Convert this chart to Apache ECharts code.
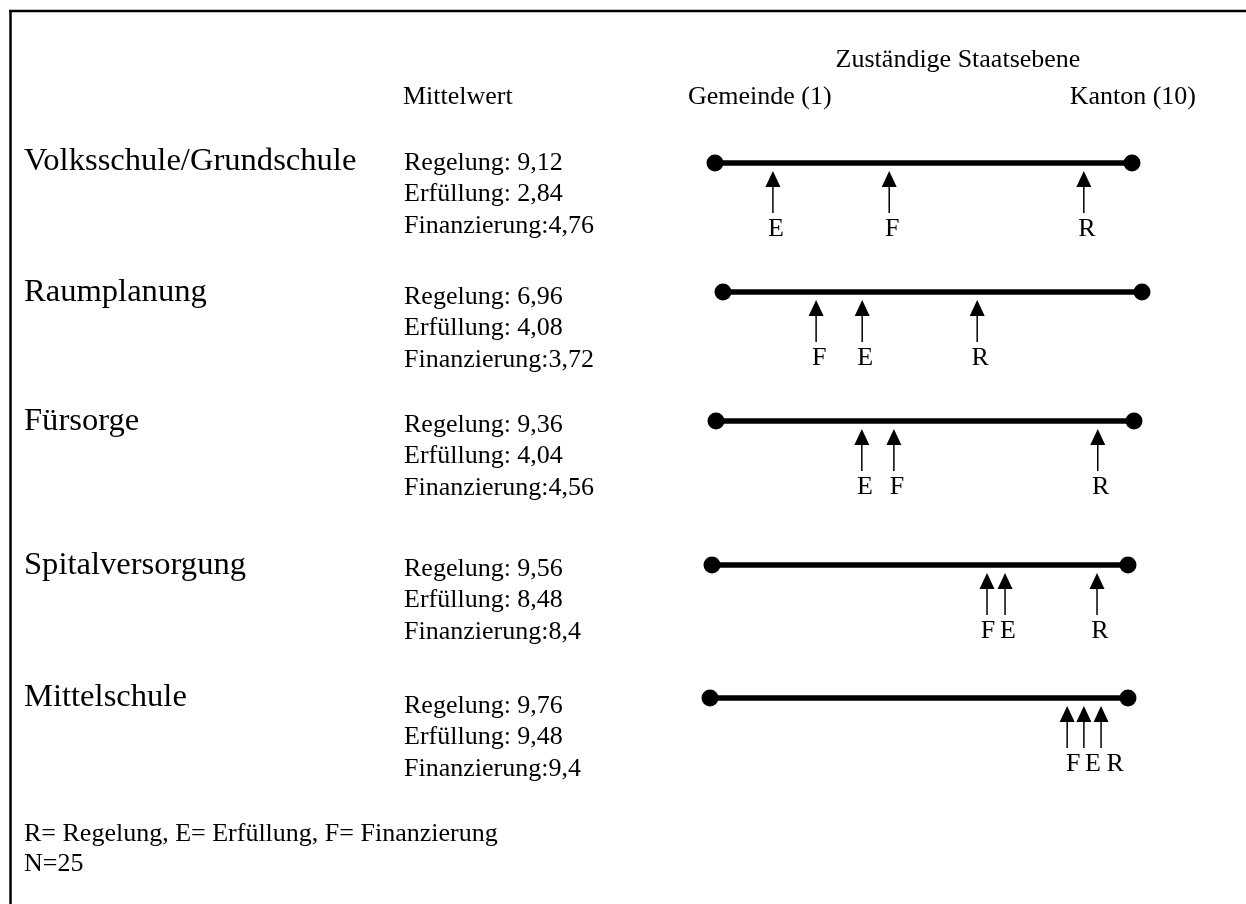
<!DOCTYPE html>
<html>
<head>
<meta charset="utf-8">
<script src="https://cdn.jsdelivr.net/npm/echarts@6/dist/echarts.min.js"></script>
<style>
html,body{margin:0;padding:0;background:#fff;}
#chart{width:1246px;height:904px;}
</style>
</head>
<body>
<div id="chart"></div>
<script>
// ---- data ----
const categories = ['Volksschule/Grundschule', 'Raumplanung', 'Fürsorge', 'Spitalversorgung', 'Mittelschule'];
const regelung = [9.12, 6.96, 9.36, 9.56, 9.76];
const erfuellung = [2.84, 4.08, 4.04, 8.48, 9.48];
const finanzierung = [4.76, 3.72, 4.56, 8.4, 9.4];
// arrow positions as drawn in the picture, on the 1 (Gemeinde) .. 10 (Kanton) scale
const arrowR = [8.96, 6.46, 9.22, 9.33, 9.42];
const arrowE = [2.25, 3.99, 4.14, 7.34, 9.05];
const arrowF = [4.76, 3.00, 4.83, 6.95, 8.69];
const letters = ['R', 'E', 'F'];
const scaleMin = 1, scaleMax = 10;
const headerTitle = 'Zuständige Staatsebene';
const headerMean = 'Mittelwert';
const headerLeft = 'Gemeinde (1)';
const headerRight = 'Kanton (10)';
const legendLine = 'R= Regelung, E= Erfüllung, F= Finanzierung';
const nLine = 'N=25';

// ---- layout (pixels) ----
const lineY = [163, 292, 421, 565, 698];
const lineLeft = [715, 723, 716, 712, 710];
const lineRight = [1132, 1142, 1134, 1128, 1128];
const labelY = [161, 292, 421, 565, 697];
const meanY = [163, 297, 425, 569, 706];
// horizontal nudge of the letter under each arrow (R, E, F) per row
const letterShift = [[3, 3, 3], [3, 3, 3], [3, 3, 3], [3, 3, 1], [14, 9, 6]];
const FONT = 'Liberation Serif';

function fmt(v) { return String(v).replace('.', ','); }

const grids = [], xAxes = [], yAxes = [], series = [], graphics = [];

categories.forEach((cat, i) => {
  grids.push({ left: lineLeft[i], width: lineRight[i] - lineLeft[i], top: lineY[i] - 50, height: 100 });
  xAxes.push({ gridIndex: i, type: 'value', min: scaleMin, max: scaleMax, show: false });
  yAxes.push({ gridIndex: i, type: 'value', min: -1, max: 1, show: false });
  series.push({
    type: 'line', xAxisIndex: i, yAxisIndex: i,
    data: [[scaleMin, 0], [scaleMax, 0]],
    symbol: 'circle', symbolSize: 17, clip: false,
    lineStyle: { color: '#000', width: 5.5 },
    itemStyle: { color: '#000' }, silent: true
  });
  series.push({
    type: 'custom', xAxisIndex: i, yAxisIndex: i, clip: false, silent: true,
    data: [[arrowR[i], 0], [arrowE[i], 1], [arrowF[i], 2]],
    renderItem: function (params, api) {
      const p = api.coord([api.value(0), 0]);
      const x = p[0], y = p[1];
      const k = api.value(1);
      const letter = letters[k];
      return {
        type: 'group', children: [
          { type: 'polygon', shape: { points: [[x, y + 8], [x - 7.5, y + 24], [x + 7.5, y + 24]] }, style: { fill: '#000' } },
          { type: 'line', shape: { x1: x, y1: y + 24, x2: x, y2: y + 50 }, style: { stroke: '#000', lineWidth: 1.5 } },
          { type: 'text', x: x + letterShift[i][k], y: y + 66, style: { text: letter, fontSize: 26, fontFamily: FONT, fill: '#000', align: 'center', verticalAlign: 'middle' } }
        ]
      };
    }
  });
  graphics.push({ type: 'text', x: 24, y: labelY[i], style: { text: cat, fontSize: 32.6, fontFamily: FONT, fill: '#000', align: 'left', verticalAlign: 'middle' } });
  const lines = ['Regelung: ' + fmt(regelung[i]), 'Erfüllung: ' + fmt(erfuellung[i]), 'Finanzierung:' + fmt(finanzierung[i])];
  lines.forEach((t, k) => {
    graphics.push({ type: 'text', x: 404, y: meanY[i] + k * 31.5, style: { text: t, fontSize: 26, fontFamily: FONT, fill: '#000', align: 'left', verticalAlign: 'middle' } });
  });
});

const txt = (t, x, y, align) => ({ type: 'text', x: x, y: y, style: { text: t, fontSize: 26, fontFamily: FONT, fill: '#000', align: align || 'left', verticalAlign: 'middle' } });
graphics.push(txt(headerTitle, 958, 60, 'center'));
graphics.push(txt(headerMean, 403, 97));
graphics.push(txt(headerLeft, 688, 97));
graphics.push(txt(headerRight, 1196, 97, 'right'));
graphics.push(txt(legendLine, 24, 834));
graphics.push(txt(nLine, 24, 864));
// frame (top and left edges)
graphics.push({ type: 'line', shape: { x1: 9, y1: 11, x2: 1246, y2: 11 }, style: { stroke: '#000', lineWidth: 2.5 } });
graphics.push({ type: 'line', shape: { x1: 10.5, y1: 10, x2: 10.5, y2: 904 }, style: { stroke: '#000', lineWidth: 2.5 } });

const chart = echarts.init(document.getElementById('chart'), null, { renderer: 'canvas' });
chart.setOption({
  animation: false,
  backgroundColor: '#fff',
  grid: grids, xAxis: xAxes, yAxis: yAxes,
  series: series,
  graphic: graphics
});
</script>
</body>
</html>
